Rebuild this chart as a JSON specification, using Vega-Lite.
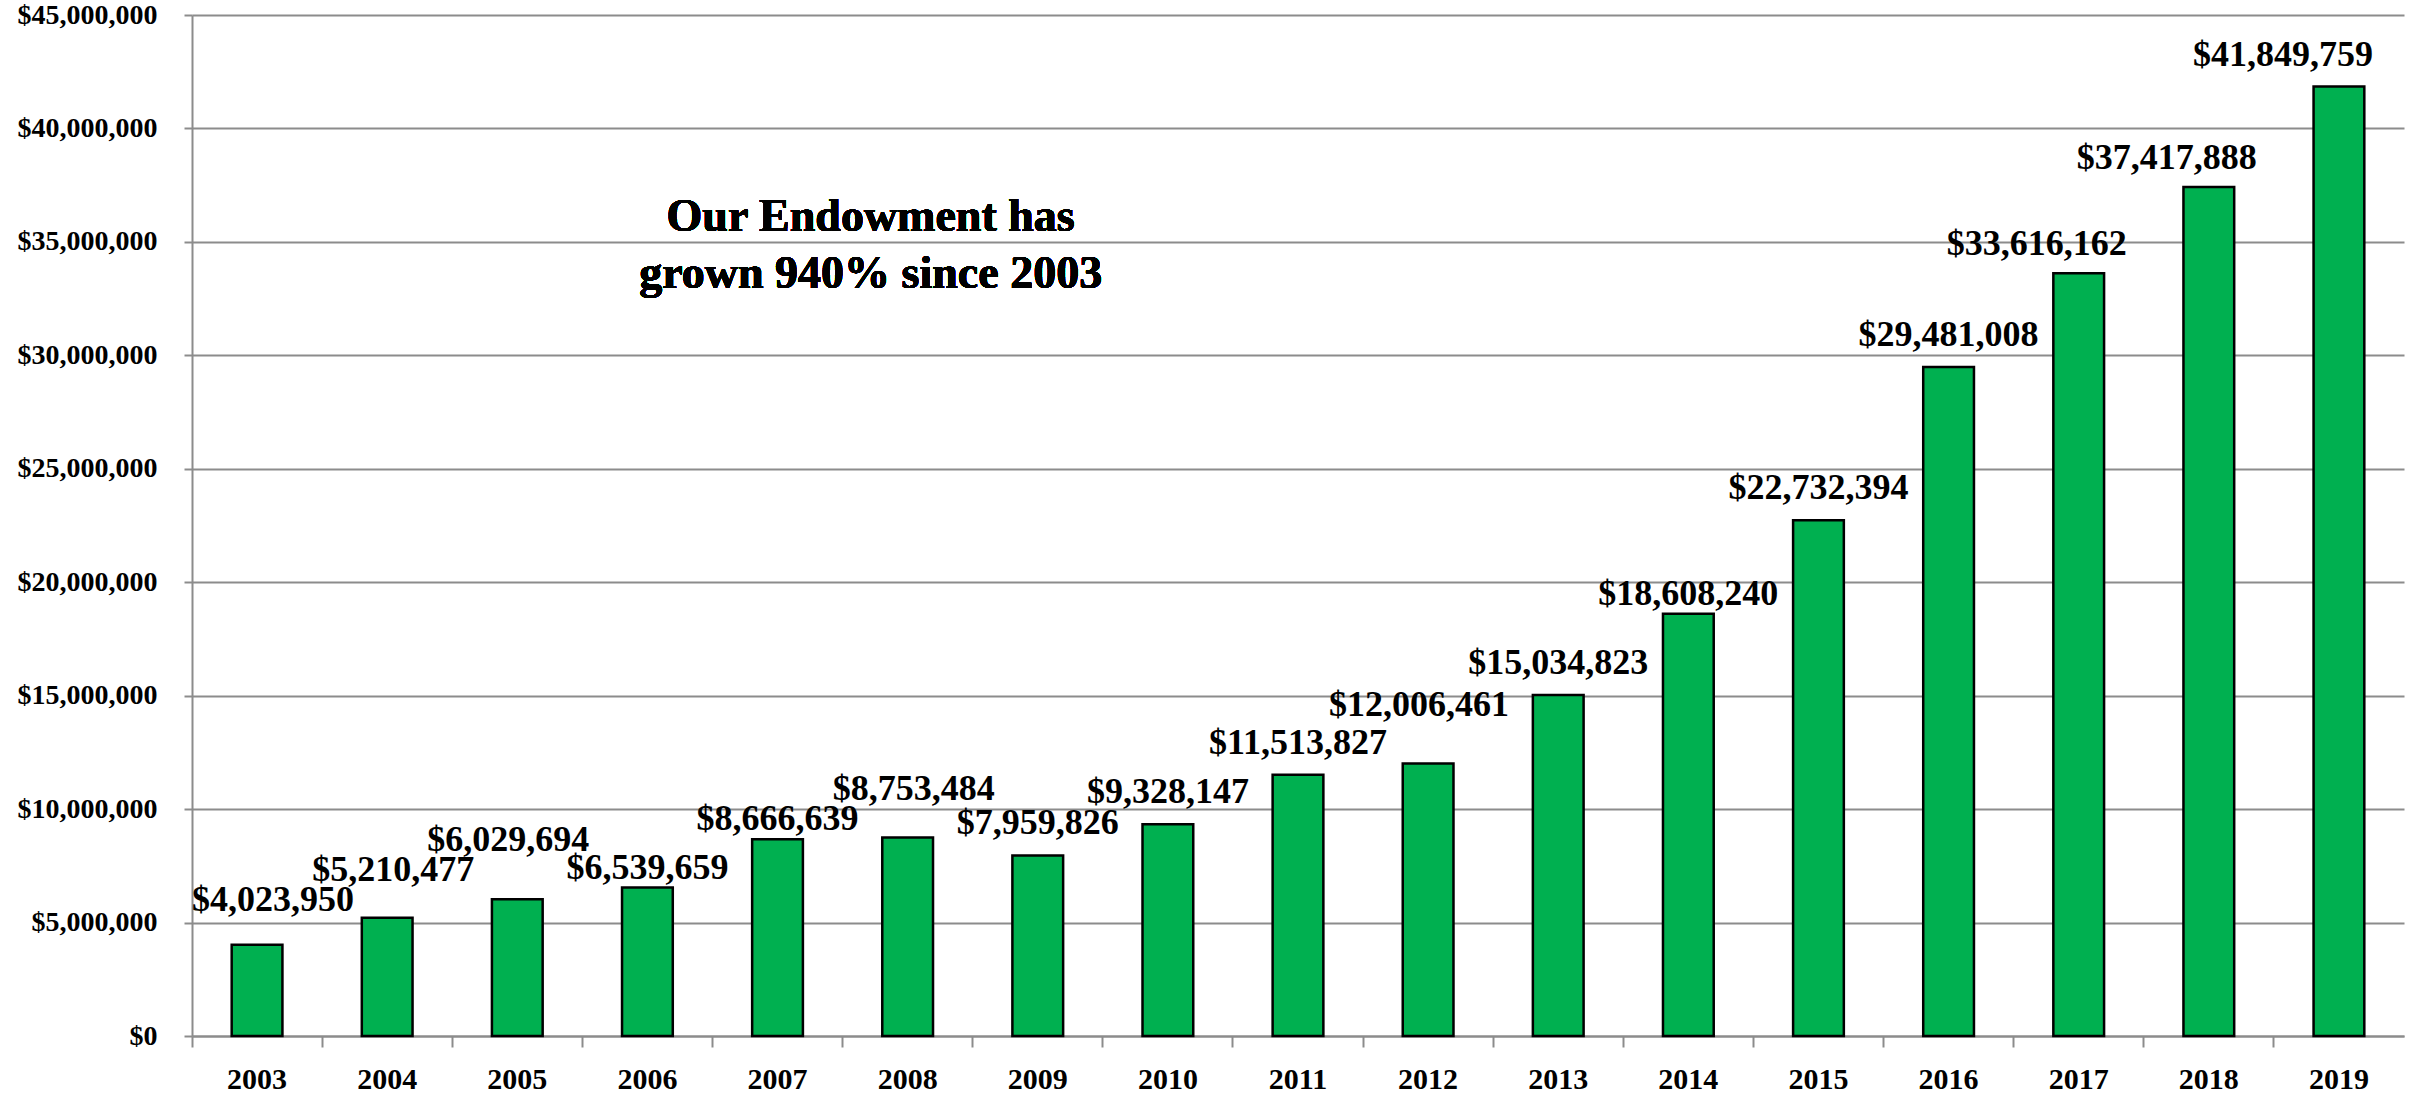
{
  "$schema": "https://vega.github.io/schema/vega-lite/v6.json",
  "autosize": {"type": "none"},
  "padding": {"left": 192, "top": 15, "right": 9, "bottom": 57},
  "width": 2212,
  "height": 1021,
  "background": "white",
  "config": {
    "view": {"stroke": null},
    "font": "Liberation Serif",
    "axis": {"labelFont": "Liberation Serif", "labelFontWeight": "bold", "labelColor": "black"},
    "text": {"font": "Liberation Serif", "fontWeight": "bold", "color": "black", "baseline": "alphabetic"}
  },
  "data": {
    "values": [
      {"year": "2003", "value": 4023950},
      {"year": "2004", "value": 5210477},
      {"year": "2005", "value": 6029694},
      {"year": "2006", "value": 6539659},
      {"year": "2007", "value": 8666639},
      {"year": "2008", "value": 8753484},
      {"year": "2009", "value": 7959826},
      {"year": "2010", "value": 9328147},
      {"year": "2011", "value": 11513827},
      {"year": "2012", "value": 12006461},
      {"year": "2013", "value": 15034823},
      {"year": "2014", "value": 18608240},
      {"year": "2015", "value": 22732394},
      {"year": "2016", "value": 29481008},
      {"year": "2017", "value": 33616162},
      {"year": "2018", "value": 37417888},
      {"year": "2019", "value": 41849759}
    ]
  },
  "encoding": {
    "x": {
      "field": "year", "type": "nominal", "sort": null,
      "scale": {"paddingInner": 0, "paddingOuter": 0},
      "axis": {
        "title": null, "labelAngle": 0, "labelFontSize": 30,
        "bandPosition": 0, "tickSize": 11, "tickWidth": 2, "tickColor": "#8c8c8c",
        "domainColor": "#8c8c8c", "domainWidth": 2, "labelPadding": 17, "grid": false
      }
    },
    "y": {
      "field": "value", "type": "quantitative",
      "scale": {"domain": [0, 45000000], "nice": false},
      "axis": {
        "title": null, "format": "$,.0f", "values": [0,5000000,10000000,15000000,20000000,25000000,30000000,35000000,40000000,45000000],
        "labelFontSize": 28, "tickSize": 8, "tickWidth": 2, "tickColor": "#8c8c8c",
        "domainColor": "#8c8c8c", "domainWidth": 2, "labelPadding": 27,
        "grid": true, "gridColor": "#8c8c8c", "gridWidth": 2
      }
    },
    "text": {"field": "value", "type": "quantitative", "format": "$,.0f"}
  },
  "layer": [
    {
      "mark": {"type": "bar", "width": {"band": 0.39}, "color": "#00B050", "stroke": "black", "strokeWidth": 2.5},
      "encoding": {"text": null}
    },
    {
      "transform": [{"filter": {"field": "year", "oneOf": ["2009", "2010", "2011", "2013", "2015", "2016"]}}],
      "mark": {"type": "text", "fontSize": 36, "dy": -21}
    },
    {
      "transform": [{"filter": {"field": "year", "oneOf": ["2006", "2007", "2014"]}}],
      "mark": {"type": "text", "fontSize": 36, "dy": -9}
    },
    {
      "transform": [{"filter": {"field": "year", "oneOf": ["2004", "2008"]}}],
      "mark": {"type": "text", "fontSize": 36, "dx": 6, "dy": -37}
    },
    {
      "transform": [{"filter": {"field": "year", "oneOf": ["2003"]}}],
      "mark": {"type": "text", "fontSize": 36, "dx": 16, "dy": -34}
    },
    {
      "transform": [{"filter": {"field": "year", "oneOf": ["2005", "2012"]}}],
      "mark": {"type": "text", "fontSize": 36, "dx": -9, "dy": -48}
    },
    {
      "transform": [{"filter": {"field": "year", "oneOf": ["2017", "2018"]}}],
      "mark": {"type": "text", "fontSize": 36, "dx": -42, "dy": -18}
    },
    {
      "transform": [{"filter": {"field": "year", "oneOf": ["2019"]}}],
      "mark": {"type": "text", "fontSize": 36, "dx": -56, "dy": -20}
    },
    {
      "mark": {"type": "text", "fontSize": 46, "align": "center", "dx": -37, "lineHeight": 57,
        "text": ["Our Endowment has", "grown 940% since 2003"]},
      "encoding": {
        "x": {"datum": "2008"},
        "y": {"datum": 35500000},
        "text": null
      }
    }
  ]
}
